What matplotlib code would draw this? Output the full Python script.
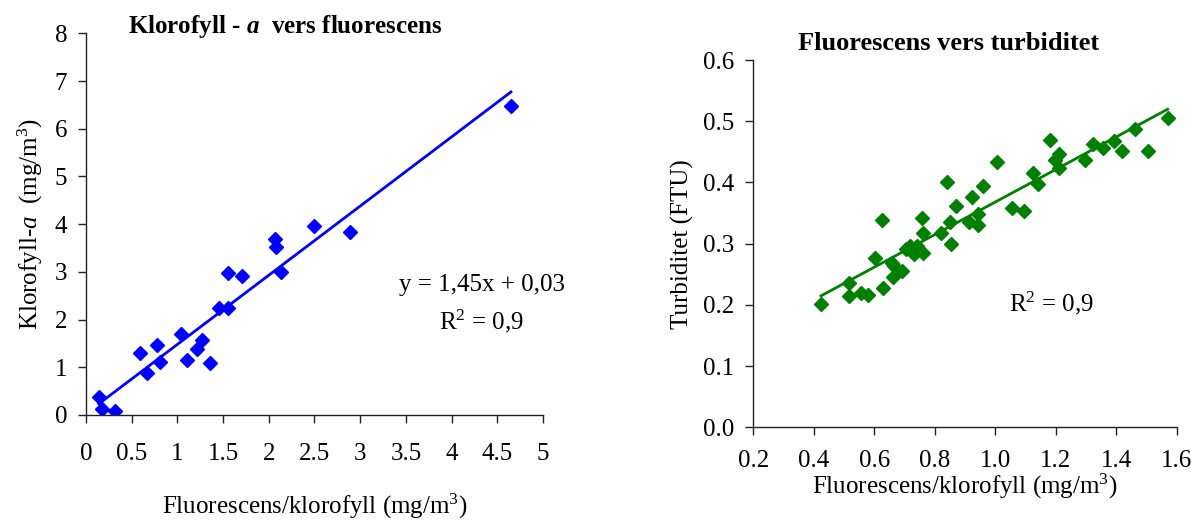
import matplotlib
matplotlib.use("Agg")
import matplotlib.pyplot as plt
import numpy as np

plt.rcParams["font.family"] = ["Liberation Serif", "DejaVu Serif"]
plt.rcParams["mathtext.fontset"] = "custom"
plt.rcParams["mathtext.rm"] = "Liberation Serif"
plt.rcParams["mathtext.it"] = "Liberation Serif:italic"
plt.rcParams["mathtext.bf"] = "Liberation Serif:bold"
plt.rcParams["mathtext.bfit"] = "Liberation Serif:bold:italic"

# Klorofyll-a mot fluorescens
fluor_a = [0.14, 0.18, 0.32, 0.59, 0.67, 0.78, 0.81, 1.04, 1.11, 1.22, 1.27, 1.36,
           1.46, 1.55, 1.55, 1.71, 2.07, 2.08, 2.13, 2.50, 2.89, 4.65]
klorofyll_a = [0.37, 0.12, 0.08, 1.29, 0.89, 1.47, 1.12, 1.69, 1.15, 1.39, 1.57, 1.09,
               2.24, 2.24, 2.98, 2.91, 3.69, 3.53, 2.99, 3.96, 3.84, 6.48]
slope_a, intercept_a = 1.45, 0.03

# Turbiditet mot fluorescens
fluor_b = [0.424, 0.515, 0.515, 0.556, 0.578, 0.601, 0.625, 0.629, 0.658, 0.665,
           0.663, 0.693, 0.705, 0.719, 0.731, 0.742, 0.757, 0.760, 0.762, 0.820,
           0.841, 0.850, 0.854, 0.871, 0.913, 0.922, 0.942, 0.942, 0.959, 1.005,
           1.056, 1.095, 1.124, 1.141, 1.182, 1.199, 1.211, 1.211, 1.296, 1.322,
           1.355, 1.392, 1.419, 1.461, 1.506, 1.570]
turbiditet = [0.201, 0.236, 0.215, 0.219, 0.216, 0.277, 0.339, 0.228, 0.268, 0.264,
              0.246, 0.256, 0.291, 0.296, 0.283, 0.296, 0.342, 0.317, 0.285, 0.317,
              0.401, 0.336, 0.300, 0.361, 0.336, 0.377, 0.348, 0.330, 0.394, 0.434,
              0.358, 0.354, 0.415, 0.397, 0.469, 0.436, 0.446, 0.423, 0.436, 0.462,
              0.457, 0.468, 0.452, 0.488, 0.452, 0.505]
slope_b, intercept_b = 0.266, 0.102

W, H = 1191, 521
fig = plt.figure(figsize=(W / 100, H / 100), dpi=100)
ax1 = fig.add_axes([0.0722, 0.2035, 0.3837, 0.7324])
ax2 = fig.add_axes([0.6325, 0.1798, 0.3555, 0.7050])

for ax in (ax1, ax2):
    for side in ("top", "right"):
        ax.spines[side].set_visible(False)
    for side in ("left", "bottom"):
        ax.spines[side].set_linewidth(1.0)
        ax.spines[side].set_color("#222222")
    ax.tick_params(direction="out", length=5.5, width=1.0, labelsize=18, color="#222222")
    ax.tick_params(axis="y", pad=8)

# --- venstre figur ---
ax1.plot(fluor_a, klorofyll_a, "D", color="#0000ff", ms=7, mec="#0000ff")
xl = np.array([min(fluor_a), max(fluor_a)])
ax1.plot(xl, slope_a * xl + intercept_a, color="#0000ff", lw=2)
ax1.set_xlim(0, 5)
ax1.set_ylim(0, 8)
ax1.set_xticks(np.arange(0, 5.01, 0.5))
ax1.set_xticklabels(["0", "0.5", "1", "1.5", "2", "2.5", "3", "3.5", "4", "4.5", "5"])
ax1.set_yticks(range(0, 9))
ax1.tick_params(axis="x", pad=15)
ax1.set_xlabel("Fluorescens/klorofyll (mg/m$^3$)", fontsize=18, labelpad=19)
ax1.set_ylabel("Klorofyll-$\\mathit{a}$  (mg/m$^3$)", fontsize=18, labelpad=7)
fig.text(128 / W, 1 - 27 / H, "Klorofyll - $\\mathbfit{a}$  vers fluorescens",
         fontsize=18, fontweight="bold", ha="left", va="center")
ax1.text(4.33, 2.72, "y = 1,45x + 0,03", fontsize=18, ha="center", va="center")
ax1.text(4.33, 1.96, "R$^2$ = 0,9", fontsize=18, ha="center", va="center")

# --- høyre figur ---
ax2.plot(fluor_b, turbiditet, "D", color="#008000", ms=7, mec="#008000")
xr = np.array([min(fluor_b), max(fluor_b)])
ax2.plot(xr, slope_b * xr + intercept_b, color="#008000", lw=2)
ax2.set_xlim(0.2, 1.6)
ax2.set_ylim(0, 0.6)
ax2.set_xticks(np.arange(0.2, 1.61, 0.2))
ax2.set_xticklabels([f"{v:.1f}" for v in np.arange(0.2, 1.61, 0.2)])
ax2.set_yticks(np.arange(0, 0.61, 0.1))
ax2.set_yticklabels([f"{v:.1f}" for v in np.arange(0, 0.61, 0.1)])
ax2.tick_params(axis="x", pad=11)
ax2.set_xlabel("Fluorescens/klorofyll (mg/m$^3$)", fontsize=18, labelpad=0)
ax2.set_ylabel("Turbiditet (FTU)", fontsize=18, labelpad=7)
fig.text(949 / W, 1 - 44 / H, "Fluorescens vers turbiditet",
         fontsize=19, fontweight="bold", ha="center", va="center")
ax2.text(1.187, 0.2026, "R$^2$ = 0,9", fontsize=18, ha="center", va="center")

fig.savefig("out.png", dpi=100)
